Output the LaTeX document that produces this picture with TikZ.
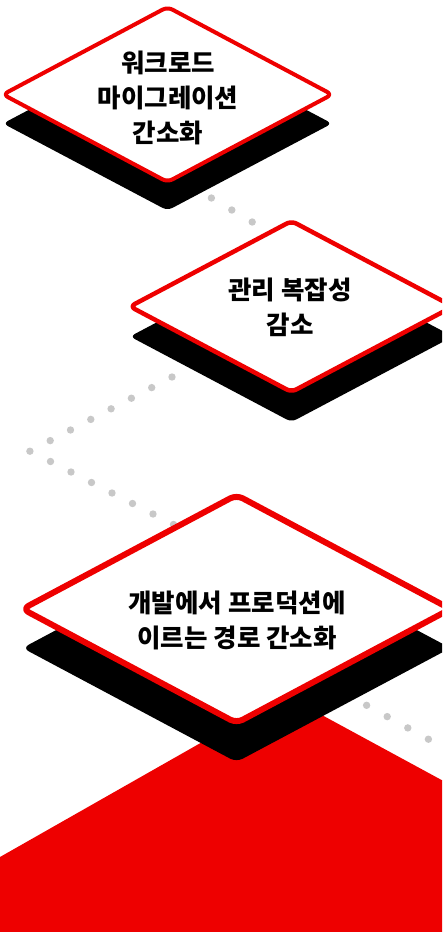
\documentclass[tikz,border=0pt]{standalone}
\usepackage{fontspec}
\newfontfamily\krfont{Noto Sans CJK KR}
\definecolor{rhred}{RGB}{238,0,0}
\definecolor{dotgray}{RGB}{200,200,200}
\begin{document}
\begin{tikzpicture}[x=1pt,y=-1pt,
  slab/.style={draw=rhred, fill=white, line join=round},
  slabshadow/.style={fill=black},
  lbl/.style={font=\krfont\bfseries\fontsize{25.5}{35}\selectfont, align=center, text=black, inner sep=0pt},
  gdot/.style={fill=dotgray, draw=none}]
\useasboundingbox (0,0) rectangle (442,932);
\clip (0,0) rectangle (442,932);
% red base
\fill[rhred] (0,857) -- (285,695) -- (460,790) -- (460,940) -- (0,940) -- cycle;
% dotted chains
\foreach \i in {0,...,4} \fill[gdot] ({191+20.4*\i},{186+12*\i}) circle (3.7);
\foreach \i in {0,...,7} \fill[gdot] ({172-20.3*\i},{377+10.6*\i}) circle (3.7);
\foreach \i in {1,...,7} \fill[gdot] ({30+20.5*\i},{451+10.5*\i}) circle (3.7);
\foreach \i in {0,...,5} \fill[gdot] ({346+20.6*\i},{694+11.3*\i}) circle (3.7);
% diamond 1
\fill[slabshadow, rounded corners=5.5pt] (167.5,36.5) -- (332,123.5) -- (167.5,210.5) -- (3,123.5) -- cycle;
\draw[slab, line width=4pt, rounded corners=5.5pt] (167.5,7) -- (332,94.5) -- (167.5,182) -- (3,94.5) -- cycle;
\node[lbl] (t1) at (168,97.5) {워크로드\\마이그레이션\\간소화};
% diamond 2
\fill[slabshadow, rounded corners=5.5pt] (291.5,251) -- (453,336.5) -- (291.5,422) -- (130,336.5) -- cycle;
\draw[slab, line width=4.5pt, rounded corners=5.5pt] (291.5,221) -- (453,306.5) -- (291.5,392) -- (130,306.5) -- cycle;
\node[lbl] (t2) at (290,307.5) {관리 복잡성\\감소};
% diamond 3
\fill[slabshadow, rounded corners=7pt] (236.5,534) -- (450.5,648) -- (236.5,762) -- (22.5,648) -- cycle;
\draw[slab, line width=6pt, rounded corners=7pt] (236.5,495) -- (450.5,609) -- (236.5,723) -- (22.5,609) -- cycle;
\node[lbl] (t3) at (237,620) {개발에서 프로덕션에\\이르는 경로 간소화};
\end{tikzpicture}
\end{document}
